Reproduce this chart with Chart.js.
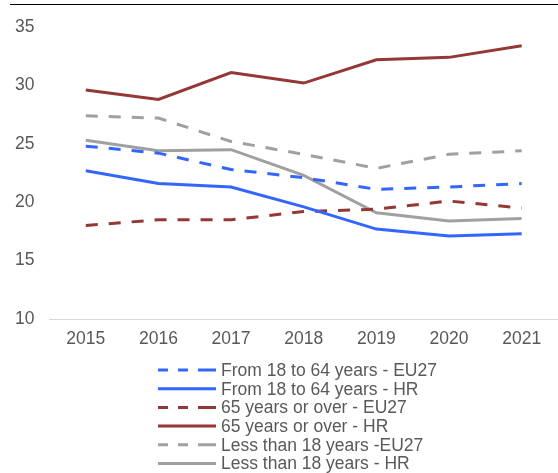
<!DOCTYPE html>
<html>
<head>
<meta charset="utf-8">
<script src="https://cdn.jsdelivr.net/npm/chart.js@4"></script>
<style>
  html, body { margin: 0; padding: 0; background: #fff; }
  #wrap { width: 558px; height: 473px; }
</style>
</head>
<body>
<div id="wrap"><canvas id="chart" width="558" height="473"></canvas></div>
<script>
// Datos
const years = ['2015', '2016', '2017', '2018', '2019', '2020', '2021'];
const eu1864 = [24.8, 24.2, 22.8, 22.1, 21.1, 21.3, 21.6];
const hr1864 = [22.7, 21.6, 21.3, 19.6, 17.7, 17.1, 17.3];
const eu65 = [18.0, 18.5, 18.5, 19.2, 19.4, 20.1, 19.5];
const hr65 = [29.6, 28.8, 31.1, 30.2, 32.2, 32.4, 33.4];
const eu18 = [27.4, 27.2, 25.2, 24.1, 22.9, 24.1, 24.4];
const hr18 = [25.3, 24.4, 24.5, 22.3, 19.1, 18.4, 18.6];

const BLUE = '#3366ff';
const RED = '#953735';
const GREY = '#a0a0a0';
const TEXT = '#595959';
const FONT = "'Liberation Sans', Arial, sans-serif";

function series(label, data, color, dashed) {
    return {
        label: label,
        data: data,
        borderColor: color,
        backgroundColor: color,
        borderWidth: 3,
        borderDash: dashed ? [12, 11] : [],
        pointRadius: 0,
        tension: 0,
        fill: false
    };
}

// Leyenda vertical dibujada a mano (una fila por serie)
const legendPlugin = {
    id: 'columnLegend',
    afterDraw(chart) {
        const ctx = chart.ctx;
        ctx.save();
        // línea negra superior
        ctx.fillStyle = '#000';
        ctx.fillRect(10, 4, 548, 1);

        ctx.font = '17.5px ' + FONT;
        ctx.fillStyle = TEXT;
        ctx.textBaseline = 'middle';
        chart.data.datasets.forEach((ds, i) => {
            const y = 370 + i * 18.7;
            ctx.strokeStyle = ds.borderColor;
            ctx.lineWidth = 3;
            ctx.setLineDash(ds.borderDash.length ? [10, 10, 10, 10, 18, 100] : []);
            ctx.beginPath();
            ctx.moveTo(158, y);
            ctx.lineTo(216, y);
            ctx.stroke();
            ctx.setLineDash([]);
            ctx.fillText(ds.label, 221, y + 1);
        });
        ctx.restore();
    }
};

new Chart(document.getElementById('chart'), {
    type: 'line',
    data: {
        labels: years,
        datasets: [
            series('From 18 to 64 years - EU27', eu1864, BLUE, true),
            series('From 18 to 64 years - HR', hr1864, BLUE, false),
            series('65 years or over - EU27', eu65, RED, true),
            series('65 years or over - HR', hr65, RED, false),
            series('Less than 18 years -EU27', eu18, GREY, true),
            series('Less than 18 years - HR', hr18, GREY, false)
        ]
    },
    options: {
        responsive: false,
        animation: false,
        layout: { padding: { left: 0, right: 0, top: 27, bottom: 113 } },
        plugins: {
            legend: { display: false },
            tooltip: { enabled: false }
        },
        scales: {
            x: {
                offset: true,
                grid: { display: false, drawTicks: false },
                border: { display: true, color: '#d9d9d9', width: 1 },
                ticks: { color: TEXT, font: { family: FONT, size: 17.5 }, padding: 10, maxRotation: 0 }
            },
            y: {
                min: 10,
                max: 35,
                grid: { display: false, drawTicks: false },
                border: { display: false },
                ticks: { stepSize: 5, color: TEXT, font: { family: FONT, size: 17.5 }, padding: 15 }
            }
        }
    },
    plugins: [legendPlugin]
});
</script>
</body>
</html>
